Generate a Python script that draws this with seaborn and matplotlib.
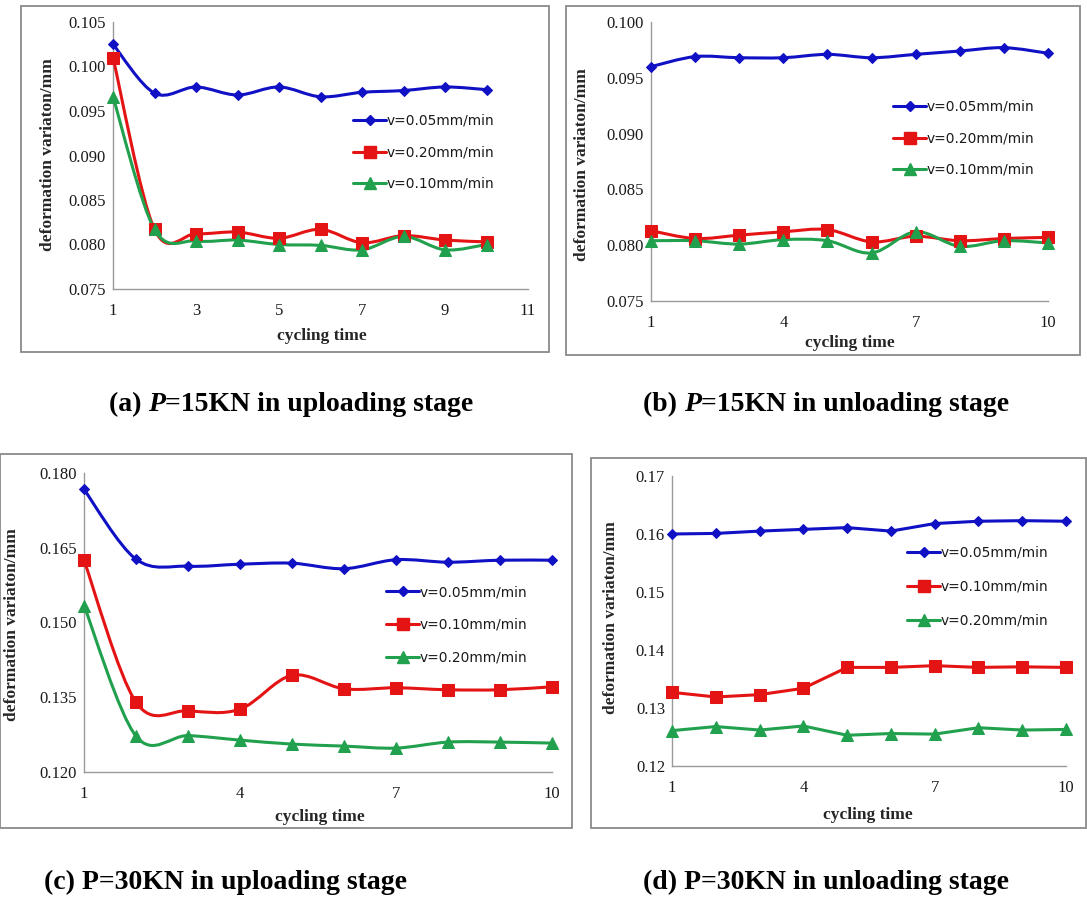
import numpy as np
import pandas as pd
import matplotlib
matplotlib.use("Agg")
import matplotlib.pyplot as plt
import seaborn as sns
from matplotlib.path import Path
from matplotlib.patches import PathPatch, Rectangle
from matplotlib.lines import Line2D

# ---------------- data ----------------
cycles = list(range(1, 11))

# (a) P=15KN uploading
a_v005 = [0.1025, 0.0970, 0.0977, 0.0968, 0.0977, 0.0966, 0.0971, 0.0973, 0.0977, 0.0974]
a_v020 = [0.1010, 0.0817, 0.0812, 0.0814, 0.0807, 0.0817, 0.0802, 0.0810, 0.0805, 0.0803]
a_v010 = [0.0966, 0.0817, 0.0804, 0.0805, 0.0800, 0.0799, 0.0794, 0.0809, 0.0794, 0.0800]

# (b) P=15KN unloading
b_v005 = [0.0960, 0.0969, 0.0968, 0.0968, 0.0971, 0.0968, 0.0971, 0.0974, 0.0977, 0.0972]
b_v020 = [0.0813, 0.0806, 0.0809, 0.0812, 0.0814, 0.0803, 0.0808, 0.0804, 0.0806, 0.0807]
b_v010 = [0.0804, 0.0804, 0.0801, 0.0805, 0.0804, 0.0793, 0.0812, 0.0799, 0.0804, 0.0802]

# (c) P=30KN uploading
c_v005 = [0.1767, 0.1627, 0.1613, 0.1617, 0.1619, 0.1608, 0.1626, 0.1621, 0.1625, 0.1625]
c_v010 = [0.1625, 0.1340, 0.1323, 0.1326, 0.1394, 0.1367, 0.1369, 0.1365, 0.1365, 0.1371]
c_v020 = [0.1534, 0.1272, 0.1273, 0.1264, 0.1256, 0.1252, 0.1248, 0.1260, 0.1260, 0.1258]

# (d) P=30KN unloading
d_v005 = [0.1600, 0.1601, 0.1605, 0.1608, 0.1611, 0.1605, 0.1618, 0.1622, 0.1623, 0.1622]
d_v010 = [0.1327, 0.1319, 0.1323, 0.1334, 0.1370, 0.1370, 0.1373, 0.1370, 0.1371, 0.1370]
d_v020 = [0.1261, 0.1268, 0.1262, 0.1269, 0.1253, 0.1256, 0.1255, 0.1266, 0.1262, 0.1263]

label_005 = "v=0.05mm/min"
label_010 = "v=0.10mm/min"
label_020 = "v=0.20mm/min"

x_label = "cycling time"
y_label = "deformation variaton/mm"

a_yticks = [0.075, 0.080, 0.085, 0.090, 0.095, 0.100, 0.105]
b_yticks = [0.075, 0.080, 0.085, 0.090, 0.095, 0.100]
c_yticks = [0.120, 0.135, 0.150, 0.165, 0.180]
d_yticks = [0.12, 0.13, 0.14, 0.15, 0.16, 0.17]
a_xticks = [1, 3, 5, 7, 9, 11]
bcd_xticks = [1, 4, 7, 10]

# ---------------- style ----------------
sns.set_style("white")
plt.rcParams["font.family"] = ["Liberation Serif", "DejaVu Serif"]

BLUE = "#1010c4"
RED = "#e41414"
GREEN = "#21a04e"
SPINE = "#9a9a9a"
FRAME = "#8a8a8a"

W, H = 1087, 900
fig = plt.figure(figsize=(W / 100, H / 100), dpi=100)
fig.patch.set_facecolor("white")


def rect(x0, y0, x1, y1):
    return [x0 / W, 1 - y1 / H, (x1 - x0) / W, (y1 - y0) / H]


def fx(x):
    return x / W


def fy(y):
    return 1 - y / H


def smooth_patch(xs, ys, color, lw):
    pts = np.column_stack([np.asarray(xs, float), np.asarray(ys, float)])
    n = len(pts)
    verts = [pts[0]]
    codes = [Path.MOVETO]
    for i in range(n - 1):
        p0 = pts[i - 1] if i > 0 else pts[i]
        p1 = pts[i]
        p2 = pts[i + 1]
        p3 = pts[i + 2] if i + 2 < n else pts[i + 1]
        verts += [p1 + (p2 - p0) / 6.0, p2 - (p3 - p1) / 6.0, p2]
        codes += [Path.CURVE4] * 3
    return PathPatch(Path(verts, codes), fill=False, edgecolor=color, lw=lw,
                     capstyle="round", joinstyle="round", zorder=3, clip_on=False)


MARK = {BLUE: ("D", 5.0), RED: ("s", 8.5), GREEN: ("^", 8.0)}
LW = 2.2


def panel(frame_box, ax_box, xlim, xticks, ylim, yticks, yfmt, series,
          smooth, xlabel_pos, ylabel_pos, legend_pos, lspace):
    x0, y0, x1, y1 = frame_box
    fig.patches.append(Rectangle((fx(x0), fy(y1)), (x1 - x0) / W, (y1 - y0) / H,
                                 transform=fig.transFigure, fill=False,
                                 edgecolor=FRAME, lw=1.3, zorder=0))
    ax = fig.add_axes(rect(*ax_box))
    ax.set_facecolor("none")
    handles = []
    for vals, color, lab in series:
        df = pd.DataFrame({"cycle": cycles, "value": vals})
        m, ms = MARK[color]
        if smooth:
            ax.add_patch(smooth_patch(cycles, vals, color, LW))
            sns.lineplot(data=df, x="cycle", y="value", ax=ax, color=color,
                         marker=m, markersize=ms, markeredgecolor=color,
                         linewidth=0, legend=False, zorder=4, clip_on=False)
        else:
            sns.lineplot(data=df, x="cycle", y="value", ax=ax, color=color,
                         marker=m, markersize=ms, markeredgecolor=color,
                         linewidth=LW, legend=False, zorder=4, clip_on=False)
        handles.append(Line2D([], [], color=color, lw=LW, marker=m,
                              markersize=ms, markeredgecolor=color, label=lab))
    ax.set_xlim(*xlim)
    ax.set_ylim(*ylim)
    ax.set_xticks(xticks)
    ax.set_xticklabels([str(t) for t in xticks])
    ax.set_yticks(yticks)
    ax.set_yticklabels([yfmt.format(t) for t in yticks])
    ax.tick_params(axis="both", length=0, labelsize=12, colors="#1a1a1a")
    ax.tick_params(axis="x", pad=10)
    ax.tick_params(axis="y", pad=5)
    for s in ["top", "right"]:
        ax.spines[s].set_visible(False)
    for s in ["left", "bottom"]:
        ax.spines[s].set_color(SPINE)
        ax.spines[s].set_linewidth(1.0)
    ax.set_xlabel(x_label, fontsize=12.5, fontweight="bold", va="center")
    ax.set_ylabel(y_label, fontsize=12.5, fontweight="bold", va="center")
    ax.xaxis.set_label_coords(fx(xlabel_pos[0]), fy(xlabel_pos[1]),
                              transform=fig.transFigure)
    ax.yaxis.set_label_coords(fx(ylabel_pos[0]), fy(ylabel_pos[1]),
                              transform=fig.transFigure)
    leg = ax.legend(handles=handles, loc="upper left",
                    bbox_to_anchor=(fx(legend_pos[0]), fy(legend_pos[1])),
                    bbox_transform=fig.transFigure, frameon=False,
                    borderpad=0, borderaxespad=0, handlelength=2.4,
                    handletextpad=0.05, labelspacing=lspace,
                    prop={"family": "DejaVu Sans", "size": 9.9})
    for t in leg.get_texts():
        t.set_color("#1a1a1a")
    return ax


# (a)
panel((21, 6, 549, 352), (113, 22, 528, 289), (1, 11), a_xticks,
      (0.075, 0.105), a_yticks, "{:.3f}",
      [(a_v005, BLUE, label_005), (a_v020, RED, label_020), (a_v010, GREEN, label_010)],
      True, (322, 336), (48, 155), (353, 114), 1.27)

# (b)
panel((566, 6, 1080, 355), (651, 22, 1048, 301), (1, 10), bcd_xticks,
      (0.075, 0.100), b_yticks, "{:.3f}",
      [(b_v005, BLUE, label_005), (b_v020, RED, label_020), (b_v010, GREEN, label_010)],
      True, (850, 343), (582, 165), (893, 100), 1.27)

# (c)
panel((0, 454, 572, 828), (84, 473, 552, 772), (1, 10), bcd_xticks,
      (0.120, 0.180), c_yticks, "{:.3f}",
      [(c_v005, BLUE, label_005), (c_v010, RED, label_010), (c_v020, GREEN, label_020)],
      True, (320, 817), (12, 625), (386, 585), 1.38)

# (d)
panel((591, 458, 1086, 828), (672, 476, 1066, 766), (1, 10), bcd_xticks,
      (0.12, 0.17), d_yticks, "{:.2f}",
      [(d_v005, BLUE, label_005), (d_v010, RED, label_010), (d_v020, GREEN, label_020)],
      False, (868, 815), (611, 618), (907, 546), 1.45)

# ---------------- captions ----------------
renderer = fig.canvas.get_renderer()
CAP = dict(fontsize=20, fontweight="bold", family=["Liberation Serif", "DejaVu Serif"],
           va="center", color="black")


def caption(cx, cy, pieces):
    texts = []
    for s, italic in pieces:
        t = fig.text(0, fy(cy), s, ha="left", style="italic" if italic else "normal", **CAP)
        texts.append(t)
    widths = [t.get_window_extent(renderer).width for t in texts]
    total = sum(widths)
    x = cx - total / 2
    for t, w in zip(texts, widths):
        t.set_x(fx(x))
        x += w


caption(291, 405, [("(a) ", False), ("P", True), ("=15KN in uploading stage", False)])
caption(826, 405, [("(b) ", False), ("P", True), ("=15KN in unloading stage", False)])
caption(225, 882, [("(c) P=30KN in uploading stage", False)])
caption(826, 882, [("(d) P=30KN in unloading stage", False)])

fig.savefig("out.png", dpi=100, facecolor="white")
